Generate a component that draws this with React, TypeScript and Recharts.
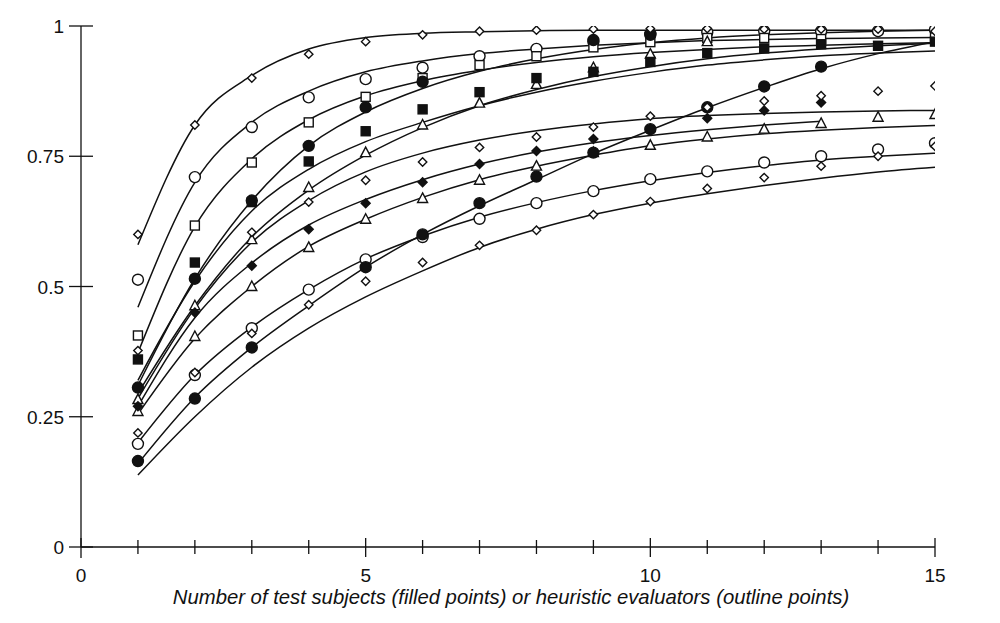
import React from 'react'
import { ComposedChart, Line, Scatter, XAxis, YAxis } from 'recharts'

// x positions shared by every fitted curve
const xs = [1, 2, 3, 4, 5, 6, 7, 8, 9, 10, 11, 12, 13, 14, 15]
const xTicks = [0, 1, 2, 3, 4, 5, 6, 7, 8, 9, 10, 11, 12, 13, 14, 15]
const yTicks = [0, 0.25, 0.5, 0.75, 1]
const yTickLabels = ['0', '0.25', '0.5', '0.75', '1']

// fitted curves at each integer x
const curveA = [0.58, 0.81, 0.905, 0.956, 0.978, 0.986, 0.989, 0.991, 0.992, 0.992, 0.992, 0.992, 0.992, 0.992, 0.992]
const curveB = [0.46, 0.7, 0.815, 0.875, 0.912, 0.933, 0.947, 0.956, 0.963, 0.968, 0.972, 0.974, 0.976, 0.977, 0.978]
const curveC = [0.373, 0.615, 0.745, 0.82, 0.866, 0.895, 0.915, 0.93, 0.941, 0.949, 0.955, 0.96, 0.963, 0.966, 0.968]
const curveF2 = [0.31, 0.515, 0.665, 0.77, 0.835, 0.88, 0.913, 0.937, 0.955, 0.968, 0.977, 0.983, 0.987, 0.99, 0.992]
const curveF3 = [0.32, 0.51, 0.645, 0.725, 0.778, 0.815, 0.847, 0.873, 0.894, 0.911, 0.925, 0.935, 0.943, 0.948, 0.952]
const curveT0 = [0.295, 0.463, 0.595, 0.685, 0.752, 0.805, 0.847, 0.878, 0.903, 0.922, 0.937, 0.948, 0.956, 0.962, 0.967]
const curveM1 = [0.285, 0.458, 0.585, 0.665, 0.72, 0.756, 0.781, 0.799, 0.812, 0.822, 0.828, 0.832, 0.835, 0.837, 0.838]
const curveM2 = [0.27, 0.44, 0.545, 0.618, 0.667, 0.705, 0.735, 0.758, 0.776, 0.79, 0.801, 0.81, 0.817]
const curveT2 = [0.255, 0.4, 0.5, 0.577, 0.629, 0.671, 0.705, 0.731, 0.752, 0.77, 0.783, 0.793, 0.8, 0.805, 0.809]
const curveL1 = [0.2, 0.33, 0.422, 0.494, 0.553, 0.597, 0.633, 0.661, 0.684, 0.703, 0.719, 0.732, 0.743, 0.75, 0.756]
const curveF1 = [0.16, 0.287, 0.383, 0.463, 0.537, 0.6, 0.655, 0.705, 0.755, 0.8, 0.843, 0.882, 0.918, 0.947, 0.97]
const curveL2 = [0.138, 0.25, 0.345, 0.42, 0.48, 0.53, 0.575, 0.61, 0.638, 0.66, 0.678, 0.694, 0.708, 0.72, 0.729]

const curves = [curveA, curveB, curveC, curveF2, curveF3, curveT0, curveM1, curveM2, curveT2, curveL1, curveF1, curveL2]

// observed points [x, proportion]
const openCircleTop = [[1, 0.513], [2, 0.71], [3, 0.806], [4, 0.863], [5, 0.898], [6, 0.92], [7, 0.942], [8, 0.956], [9, 0.97], [10, 0.985], [11, 0.988], [12, 0.99], [13, 0.99], [14, 0.99], [15, 0.993]]
const openCircleLow = [[1, 0.198], [2, 0.33], [3, 0.42], [4, 0.494], [5, 0.552], [6, 0.595], [7, 0.63], [8, 0.66], [9, 0.683], [10, 0.706], [11, 0.721], [12, 0.738], [13, 0.75], [14, 0.763], [15, 0.775]]
const openSquare = [[1, 0.406], [2, 0.617], [3, 0.738], [4, 0.815], [5, 0.864], [6, 0.9], [7, 0.925], [8, 0.942], [9, 0.959], [10, 0.969], [11, 0.977], [12, 0.977], [13, 0.975], [15, 0.978]]
const triangleTop = [[1, 0.283], [2, 0.463], [3, 0.59], [4, 0.69], [5, 0.757], [6, 0.81], [7, 0.852], [8, 0.888], [9, 0.92], [10, 0.946], [11, 0.97]]
const triangleLow = [[1, 0.26], [2, 0.404], [3, 0.5], [4, 0.575], [5, 0.629], [6, 0.669], [7, 0.704], [8, 0.731], [9, 0.757], [10, 0.771], [11, 0.787], [12, 0.802], [13, 0.813], [14, 0.825], [15, 0.83]]
const filledCircleTop = [[1, 0.306], [2, 0.515], [3, 0.665], [4, 0.77], [5, 0.844], [6, 0.893], [9, 0.973], [10, 0.983]]
const filledCircleLow = [[1, 0.165], [2, 0.285], [3, 0.383], [5, 0.537], [6, 0.6], [7, 0.66], [8, 0.711], [9, 0.757], [10, 0.802], [11, 0.844], [12, 0.884], [13, 0.922]]
const filledSquare = [[1, 0.36], [2, 0.546], [3, 0.662], [4, 0.74], [5, 0.798], [6, 0.84], [7, 0.873], [8, 0.9], [9, 0.912], [10, 0.931], [11, 0.948], [12, 0.957], [13, 0.965], [14, 0.962], [15, 0.97]]
const filledDiamond = [[1, 0.27], [2, 0.45], [3, 0.54], [4, 0.61], [5, 0.66], [6, 0.7], [7, 0.735], [8, 0.76], [9, 0.783], [11, 0.823], [12, 0.838], [13, 0.853]]
const openDiamondTop = [[1, 0.6], [2, 0.81], [3, 0.9], [4, 0.946], [5, 0.97], [6, 0.983], [7, 0.99], [8, 0.992], [9, 0.994], [10, 0.995], [11, 0.995], [12, 0.994], [13, 0.994], [14, 0.994], [15, 0.99]]
const openDiamondMid = [[1, 0.377], [3, 0.604], [4, 0.662], [5, 0.704], [6, 0.739], [7, 0.767], [8, 0.787], [9, 0.806], [10, 0.827], [11, 0.844], [12, 0.856], [13, 0.866], [14, 0.875], [15, 0.885]]
const openDiamondLow = [[1, 0.219], [2, 0.335], [3, 0.41], [4, 0.465], [5, 0.51], [6, 0.546], [7, 0.579], [8, 0.608], [9, 0.638], [10, 0.663], [11, 0.688], [12, 0.709], [13, 0.731], [14, 0.75], [15, 0.769]]

const markerSets: { pts: number[][]; kind: string; filled: boolean }[] = [
  { pts: openCircleTop, kind: 'circle', filled: false },
  { pts: openCircleLow, kind: 'circle', filled: false },
  { pts: openSquare, kind: 'square', filled: false },
  { pts: triangleTop, kind: 'triangle', filled: false },
  { pts: triangleLow, kind: 'triangle', filled: false },
  { pts: filledCircleTop, kind: 'circle', filled: true },
  { pts: filledCircleLow, kind: 'circle', filled: true },
  { pts: filledSquare, kind: 'square', filled: true },
  { pts: filledDiamond, kind: 'diamond', filled: true },
  { pts: openDiamondTop, kind: 'diamond', filled: false },
  { pts: openDiamondMid, kind: 'diamond', filled: false },
  { pts: openDiamondLow, kind: 'diamond', filled: false },
]

const FONT = '"Liberation Sans", Arial, Helvetica, sans-serif'
const INK = '#111'

function Marker({ cx, cy, kind, filled }: any) {
  if (cx == null || cy == null) return null
  const fill = filled ? INK : '#fff'
  const common = { fill, stroke: INK, strokeWidth: 1.4 }
  if (kind === 'circle') return <circle cx={cx} cy={cy} r={5.5} {...common} />
  if (kind === 'square') return <rect x={cx - 4.5} y={cy - 4.5} width={9} height={9} {...common} />
  if (kind === 'triangle')
    return <polygon points={`${cx},${cy - 5.5} ${cx + 5},${cy + 4} ${cx - 5},${cy + 4}`} {...common} />
  const d = filled ? 4.5 : 4.2
  return <polygon points={`${cx},${cy - d} ${cx + d},${cy} ${cx},${cy + d} ${cx - d},${cy}`} {...common} />
}

function XTick({ x, y, payload }: any) {
  const v = payload.value
  const major = v % 5 === 0
  return (
    <g>
      <line x1={x} x2={x} y1={y - (major ? 9 : 7)} y2={y + (v === 0 ? 11 : major ? 10 : 7)} stroke={INK} strokeWidth={1.3} />
      {major && (
        <text x={x} y={y + 35} textAnchor="middle" fontSize={19} fontFamily={FONT} fill={INK}>
          {v}
        </text>
      )}
    </g>
  )
}

function YTick({ x, y, payload }: any) {
  const i = yTicks.indexOf(payload.value)
  return (
    <g>
      <line x1={x - 12} x2={x + 12} y1={y} y2={y} stroke={INK} strokeWidth={1.3} />
      <text x={x - 17} y={y + 7} textAnchor="end" fontSize={19} fontFamily={FONT} fill={INK}>
        {yTickLabels[i]}
      </text>
    </g>
  )
}

function AxisTitle({ viewBox }: any) {
  const { x, y, width } = viewBox
  return (
    <text x={x + width / 2 + 3} y={y + 57} textAnchor="middle" fontSize={20.3} fontStyle="italic" fontFamily={FONT} fill={INK}>
      Number of test subjects (filled points) or heuristic evaluators (outline points)
    </text>
  )
}

export default function App() {
  return (
    <div style={{ position: 'absolute', left: 0, top: 0, width: 1000, height: 623, background: '#fff' }}>
      <ComposedChart width={1000} height={623} margin={{ top: 26, right: 65, bottom: 0, left: 0 }}>
        <XAxis
          type="number"
          dataKey="x"
          domain={[0, 15]}
          ticks={xTicks}
          interval={0}
          tickSize={0}
          tickMargin={0}
          tickLine={false}
          axisLine={{ stroke: INK, strokeWidth: 1.3 }}
          tick={<XTick />}
          height={76}
          allowDataOverflow
          label={<AxisTitle />}
        />
        <YAxis
          type="number"
          dataKey="y"
          domain={[0, 1]}
          ticks={yTicks}
          interval={0}
          tickSize={0}
          tickMargin={0}
          tickLine={false}
          axisLine={{ stroke: INK, strokeWidth: 1.3 }}
          tick={<YTick />}
          width={81}
          allowDataOverflow
        />
        {curves.map((c, i) => (
          <Line
            key={`c${i}`}
            data={c.map((y, j) => ({ x: xs[j], y }))}
            dataKey="y"
            type="monotone"
            stroke={INK}
            strokeWidth={1.5}
            dot={false}
            activeDot={false}
            isAnimationActive={false}
          />
        ))}
        {markerSets.map((m, i) => (
          <Scatter
            key={`m${i}`}
            data={m.pts.map(([x, y]) => ({ x, y }))}
            dataKey="y"
            isAnimationActive={false}
            shape={(p: any) => <Marker cx={p.cx} cy={p.cy} kind={m.kind} filled={m.filled} />}
          />
        ))}
      </ComposedChart>
    </div>
  )
}
